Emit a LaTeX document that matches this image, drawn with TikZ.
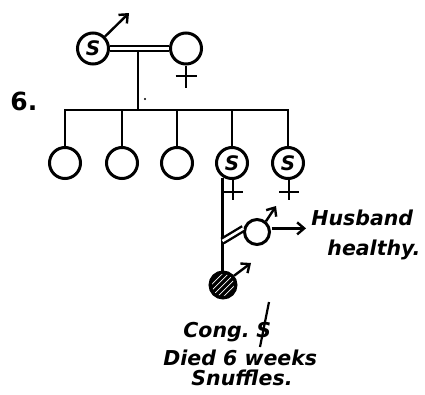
\documentclass[tikz,border=0pt]{standalone}
\usepackage{fontspec}
\newfontfamily\labfont{DejaVu Sans}
\usetikzlibrary{arrows.meta,calc}
\begin{document}
\begin{tikzpicture}[x=1pt,y=-1pt,line width=2.8pt,line cap=butt,
  person/.style={circle,draw,line width=3pt,inner sep=0pt,minimum size=31pt,font=\labfont\bfseries\itshape\fontsize{20}{20}\selectfont},
  smallperson/.style={person,minimum size=25pt},
  marr/.style={draw,line width=2.4pt,-{Straight Barb[length=7pt,width=12pt,line width=2.4pt]}},
  marriage/.style={draw,line width=2.4pt,double distance=2.6pt},
  femcross/.style={draw,line width=2.8pt},
  lab/.style={inner sep=0pt,anchor=base west,font=\labfont\bfseries\itshape\fontsize{20.5}{22}\selectfont}]
\useasboundingbox (0,0) rectangle (425,394);
% generation I
\node[person] (f) at (93,48.5) {S};
\node[person] (m) at (186,48.5) {};
\draw[marriage] (f.east) -- (m.west);
\coordinate (fa) at (129,13);
\draw[marr] (f.45) -- (fa);
\coordinate (mx) at (186,88);
\draw[femcross] (m.south) -- (mx);
\draw[femcross] (175.5,76) -- (196.5,76);
\node[inner sep=0pt,anchor=base west,font=\labfont\bfseries\fontsize{25}{25}\selectfont] (six) at (9,110) {6.};
% descent
\coordinate (mid) at (138,52);
\coordinate (bar) at (138,110);
\draw (mid) -- (bar);
\fill (145,99) circle (1.2pt);
% generation II
\node[person] (c1) at (65,163) {};
\node[person] (c2) at (122,163) {};
\node[person] (c3) at (177,163) {};
\node[person] (c4) at (232,163) {S};
\node[person] (c5) at (288,163) {S};
\draw[line cap=rect] (c1.north |- bar) -- (c5.north |- bar);
\foreach \c in {c1,c2,c3,c4,c5} \draw (\c.north) -- (\c.north |- bar);
\foreach \c in {c4,c5} {
  \draw[femcross] (\c.south) ++(1,0) -- ++(0,20);
  \draw[femcross] (\c.south) ++(-9,12) -- ++(20,0);
}
% generation III
\node[smallperson,minimum size=26pt,fill=black] (a) at (223,285) {};
\begin{scope}
  \clip (a.center) circle (11pt);
  \foreach \i in {-24,-18,...,24}
    \draw[white,line width=0.7pt] ($(a.center)+(\i-15,15)$) -- ($(a.center)+(\i+15,-15)$);
\end{scope}
\coordinate (v) at (222.5,178);
\draw (v) -- (v |- a.north);
\node[smallperson] (h) at (257,232) {};
\coordinate (hj) at (222.5,241);
\draw[marriage] (hj) -- (h.165);
\coordinate (ha) at (276,206);
\draw[marr] (h.50) -- (ha);
\coordinate (aa) at (251,263);
\draw[marr] (a.40) -- (aa);
\node[lab] (husb) at (310,225) {Husband};
\node[lab] (hl) at (326,255) {healthy.};
\draw[marr,shorten >=4pt] ($(h.15)+(1,0)$) -- (h.15 -| husb.west);
% notes
\node[lab] (cong) at (182,337) {Cong.};
\node[lab] (sy) at (255,337) {S};
\draw[line width=2.2pt] (269,302) -- (260,347);
\node[lab] (died) at (162,365) {Died 6 weeks};
\node[lab] (snuf) at (190,385) {Snuffles.};
\end{tikzpicture}
\end{document}
